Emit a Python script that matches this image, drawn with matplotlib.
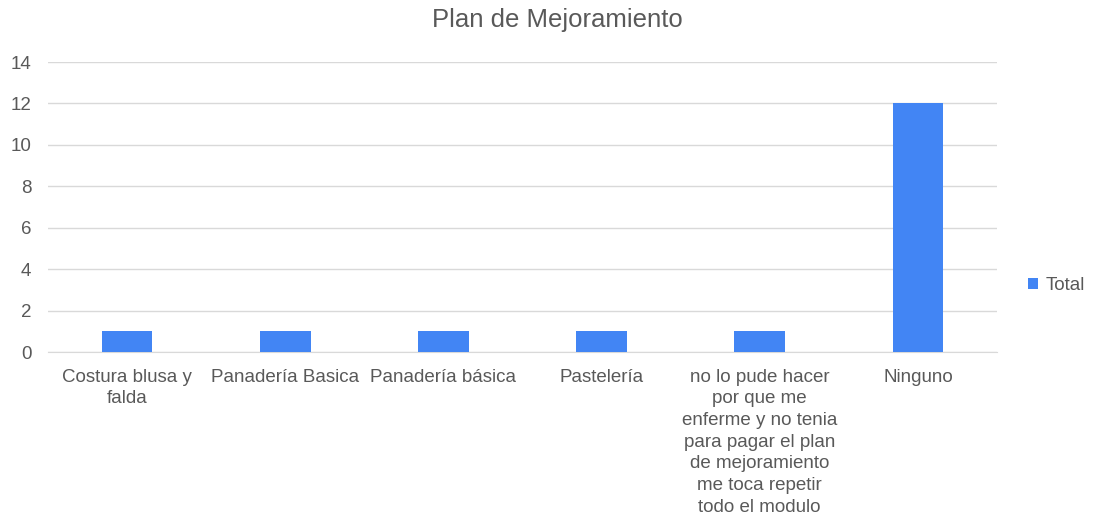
import matplotlib
matplotlib.use("Agg")
from matplotlib import pyplot as plt
import numpy as np

plt.rcParams['font.family'] = ['Liberation Sans', 'DejaVu Sans']

categories = ["Costura blusa y\nfalda", "Panadería Basica", "Panadería básica", "Pastelería",
              "no lo pude hacer\npor que me\nenferme y no tenia\npara pagar el plan\nde mejoramiento\nme toca repetir\ntodo el modulo",
              "Ninguno"]
values = [1, 1, 1, 1, 1, 12]

fig = plt.figure(figsize=(10.95, 5.16), dpi=100)
ax = fig.add_axes([0.0438, 0.3178, 0.8667, 0.562])

x = np.arange(len(categories))
ax.bar(x, values, width=0.32, color='#4285F4', label='Total', zorder=3)

ax.set_xlim(-0.5, len(categories) - 0.5)
ax.set_ylim(0, 14)
ax.set_yticks(range(0, 15, 2))
ax.yaxis.grid(True, color='#d9d9d9', linewidth=1, zorder=0)
for s in ['top', 'right', 'left']:
    ax.spines[s].set_visible(False)
ax.spines['bottom'].set_color('#d9d9d9')
ax.tick_params(axis='both', length=0, labelsize=13.5, colors='#595959')
ax.tick_params(axis='x', pad=12)
ax.tick_params(axis='y', pad=12)
ax.set_xticks(x)
ax.set_xticklabels(categories, va='top', ha='center', linespacing=1.36)

fig.text(557 / 1095, 1 - 20 / 516, 'Plan de Mejoramiento', fontsize=18.5, color='#595959',
         ha='center', va='center')
ax.legend(loc='center left', bbox_to_anchor=(1.015, 0.23), frameon=False, fontsize=13.5,
          handlelength=0.55, handleheight=0.55, handletextpad=0.4, labelcolor='#595959')

fig.savefig('out.png', dpi=100)
